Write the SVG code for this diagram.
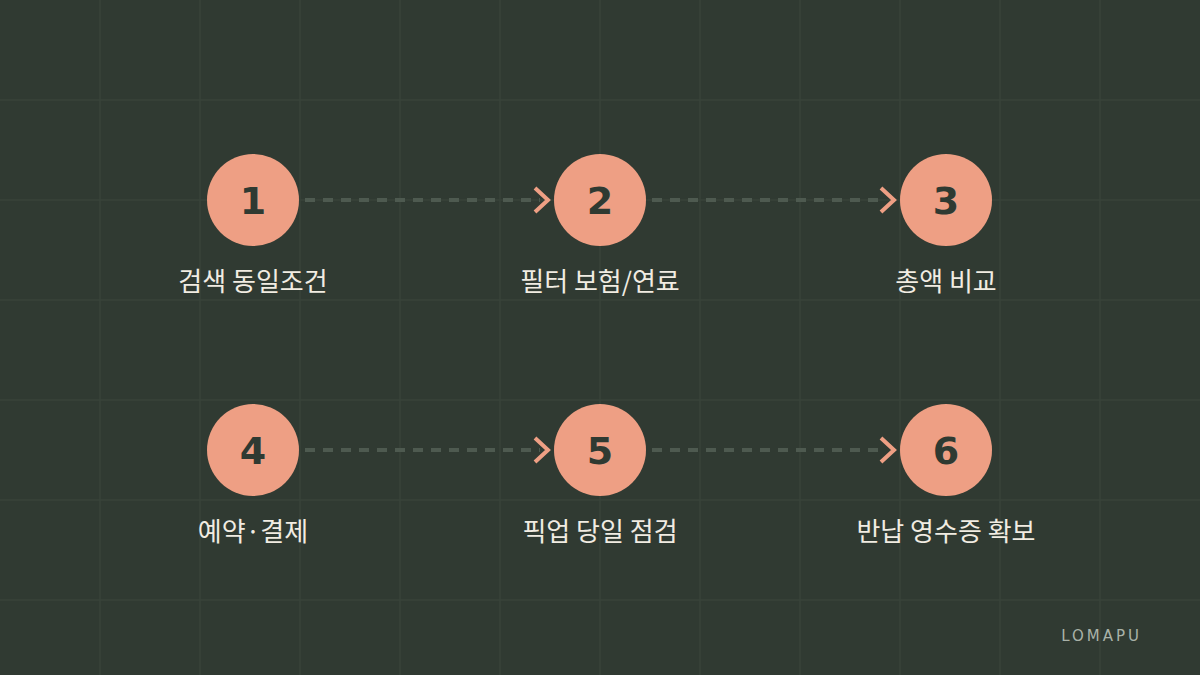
<svg xmlns="http://www.w3.org/2000/svg" width="1200" height="675" viewBox="0 0 1200 675">
<defs>
<style>
.g{stroke:#38433a;stroke-width:1.5}
.c{fill:#ee9f84}
.n{font-family:"DejaVu Sans",sans-serif;font-weight:bold;font-size:38px;fill:#2f3a32;text-anchor:middle}
.l{font-family:"Noto Sans CJK KR","DejaVu Sans",sans-serif;font-size:26px;fill:#f1ece2;text-anchor:middle}
.d{stroke:#4e5a50;stroke-width:4;stroke-dasharray:10 8;fill:none}
.h{stroke:#ee9f84;stroke-width:4;fill:none}
</style>
</defs>
<rect width="1200" height="675" fill="#303a32"/>
<g>
<path class="g" d="M100 0V675M200 0V675M300 0V675M400 0V675M500 0V675M600 0V675M700 0V675M800 0V675M900 0V675M1000 0V675M1100 0V675M0 100H1200M0 200H1200M0 300H1200M0 400H1200M0 500H1200M0 600H1200"/>
</g>
<g id="connectors">
<path class="d" d="M305 200H540M652 200H886M305 450H540M652 450H886"/>
<path class="h" d="M535 188L548 200L535 212M881 188L894 200L881 212M535 438L548 450L535 462M881 438L894 450L881 462"/>
</g>
<g id="n1"><circle class="c" cx="253" cy="200" r="46"/><text class="n" x="253" y="214">1</text><text class="l" x="253" y="291">검색 동일조건</text></g>
<g id="n2"><circle class="c" cx="600" cy="200" r="46"/><text class="n" x="600" y="214">2</text><text class="l" x="600" y="291">필터 보험/연료</text></g>
<g id="n3"><circle class="c" cx="946" cy="200" r="46"/><text class="n" x="946" y="214">3</text><text class="l" x="946" y="291">총액 비교</text></g>
<g id="n4"><circle class="c" cx="253" cy="450" r="46"/><text class="n" x="253" y="464">4</text><text class="l" x="253" y="541">예약·결제</text></g>
<g id="n5"><circle class="c" cx="600" cy="450" r="46"/><text class="n" x="600" y="464">5</text><text class="l" x="600" y="541">픽업 당일 점검</text></g>
<g id="n6"><circle class="c" cx="946" cy="450" r="46"/><text class="n" x="946" y="464">6</text><text class="l" x="946" y="541">반납 영수증 확보</text></g>
<text x="1142" y="641" text-anchor="end" font-family="DejaVu Sans,sans-serif" font-size="15" letter-spacing="3" fill="#a9b2a8">LOMAPU</text>
</svg>
